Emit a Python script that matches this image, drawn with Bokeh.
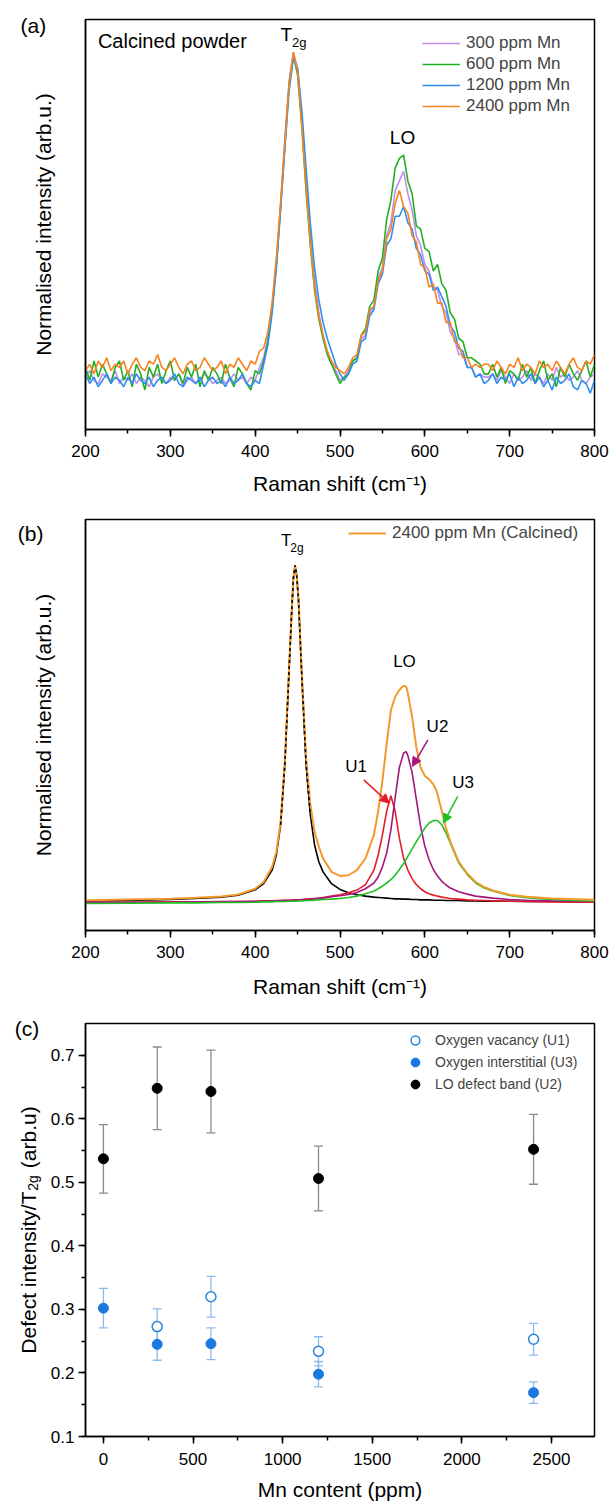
import numpy as np
from bokeh.plotting import figure
from bokeh.models import (ColumnDataSource, Range1d, SingleIntervalTicker, FixedTicker, Label,
                          Legend, LegendItem, Arrow, NormalHead, Whisker, TeeHead)
from bokeh.layouts import column
from bokeh.embed import file_html
from bokeh.resources import INLINE

FONT = "Liberation Sans"

# ---------------- Panel (a) data: calcined powder spectra ----------------
raman_x = list(range(200, 805, 5))
mn300 = [-0.01,0.01,-0.02,-0.03,0.00,-0.01,-0.02,0.01,-0.03,-0.01,
         -0.02,0.00,-0.03,-0.01,-0.02,-0.04,-0.01,0.00,-0.02,-0.03,
         -0.01,-0.02,0.00,-0.04,-0.02,-0.01,-0.03,-0.02,0.00,-0.01,
         -0.03,-0.02,-0.01,-0.03,-0.02,0.00,-0.02,-0.01,-0.03,-0.01,-0.02,
         0.02,0.05,0.11,0.21,0.35,0.53,0.73,0.91,1.0,0.95,
         0.79,0.60,0.43,0.29,0.19,0.12,0.07,0.03,0.01,-0.02,
         -0.01,0.01,
         0.04,0.05,0.11,0.12,0.19,0.21,0.30,0.33,0.43,0.47,
         0.57,0.60,0.63,0.56,0.51,0.43,0.40,0.34,0.32,0.27,
         0.26,0.21,0.19,0.13,0.11,0.06,0.06,0.02,0.02,-0.01,0.00,-0.01,
         -0.01,0.00,-0.02,0.01,-0.01,-0.03,0.00,-0.02,-0.01,0.01,
         -0.02,0.00,-0.01,-0.03,0.00,-0.02,0.02,-0.01,0.00,-0.02,
         -0.01,0.01,-0.02,-0.03,-0.01,0.00]
mn600 = [0.02,-0.02,0.04,-0.01,0.03,0.00,-0.03,0.02,0.04,-0.02,
         0.01,-0.04,0.03,0.00,-0.05,0.02,-0.01,0.03,-0.03,0.01,
         0.04,-0.02,0.00,-0.03,0.02,-0.01,0.03,-0.04,0.01,-0.02,
         0.02,0.00,-0.03,0.03,-0.01,-0.04,0.02,0.00,-0.03,-0.05,0.01,
         0.00,0.04,0.10,0.20,0.34,0.52,0.71,0.90,0.99,0.93,
         0.77,0.57,0.40,0.26,0.17,0.11,0.06,0.03,0.00,-0.03,
         -0.01,0.00,
         0.04,0.05,0.12,0.14,0.21,0.23,0.32,0.36,0.48,0.54,
         0.64,0.67,0.68,0.60,0.56,0.46,0.45,0.39,0.38,0.32,
         0.34,0.28,0.26,0.19,0.17,0.11,0.10,0.05,0.05,0.04,0.03,0.00,
         0.00,0.03,-0.01,0.02,-0.03,0.01,0.00,-0.02,0.03,-0.01,
         0.02,-0.03,0.01,0.04,-0.02,0.00,-0.04,0.02,-0.01,0.03,
         0.00,-0.02,0.01,0.04,-0.01,0.03]
mn1200 = [0.00,-0.03,-0.01,-0.04,-0.02,0.00,-0.03,-0.01,-0.02,-0.04,
          -0.01,-0.03,0.00,-0.02,-0.03,-0.01,-0.04,-0.02,-0.01,-0.03,
          -0.02,0.00,-0.03,-0.04,-0.01,-0.02,-0.03,-0.01,-0.04,-0.02,
          -0.01,-0.03,-0.02,-0.04,-0.01,-0.03,-0.02,0.00,-0.03,-0.04,-0.02,
          -0.03,0.03,0.09,0.19,0.33,0.51,0.70,0.88,0.98,0.95,
          0.82,0.64,0.47,0.33,0.23,0.16,0.11,0.07,0.03,0.00,
          -0.02,0.00,
          0.03,0.04,0.10,0.11,0.18,0.20,0.28,0.31,0.40,0.42,
          0.49,0.49,0.52,0.47,0.45,0.39,0.37,0.32,0.31,0.26,
          0.27,0.24,0.21,0.15,0.13,0.08,0.07,0.02,0.02,-0.01,0.00,-0.03,
          -0.02,0.00,-0.03,-0.01,-0.02,0.00,-0.04,-0.01,-0.03,-0.02,
          0.00,-0.03,-0.01,-0.04,-0.02,-0.05,-0.01,-0.03,-0.02,0.00,
          -0.04,-0.05,-0.02,-0.03,-0.06,-0.02]
mn2400 = [0.01,0.03,0.00,0.04,0.02,0.05,0.01,0.03,0.02,0.04,
          0.00,0.03,0.05,0.02,0.01,0.04,0.03,0.06,0.02,0.01,
          0.03,0.05,0.02,0.00,0.03,0.04,0.01,0.02,0.05,0.03,
          0.01,0.02,0.04,0.00,0.03,0.02,0.05,0.03,0.01,0.04,0.03,
          0.07,0.08,0.13,0.22,0.36,0.53,0.72,0.90,1.0,0.94,
          0.77,0.58,0.41,0.27,0.18,0.12,0.07,0.04,0.02,0.01,
          0.00,0.02,
          0.05,0.06,0.12,0.13,0.20,0.21,0.29,0.32,0.42,0.45,
          0.53,0.57,0.52,0.50,0.43,0.41,0.34,0.33,0.27,0.28,
          0.22,0.22,0.16,0.16,0.10,0.09,0.05,0.05,0.02,0.03,0.02,0.03,
          0.03,0.01,0.04,0.02,0.00,0.03,0.02,0.05,0.01,0.03,
          0.02,0.00,0.04,0.02,0.03,0.01,0.04,0.02,0.00,0.03,
          0.05,0.02,0.01,0.04,0.03,0.06]
series_a_labels = ["300 ppm Mn", "600 ppm Mn", "1200 ppm Mn", "2400 ppm Mn"]

# ---------------- Panel (b) data: fitted 2400 ppm spectrum ----------------
fit_x = [200,250,300,330,360,380,400,410,420,425,430,435,440,443,445,447,449,451,455,460,
         465,470,475,480,490,500,510,520,530,540,545,550,555,560,565,570,575,578,580,585,
         590,595,600,605,610,613,615,620,625,630,640,650,660,670,680,700,720,750,800]
measured = [0.006,0.008,0.010,0.013,0.017,0.023,0.040,0.060,0.105,0.150,0.24,0.42,0.70,0.86,0.96,1.0,0.97,0.90,0.68,0.43,
            0.29,0.21,0.165,0.13,0.09,0.078,0.08,0.095,0.13,0.20,0.27,0.36,0.47,0.57,0.61,0.63,0.643,0.64,0.62,0.55,
            0.46,0.40,0.375,0.365,0.35,0.335,0.32,0.27,0.22,0.18,0.12,0.085,0.06,0.045,0.035,0.022,0.016,0.011,0.007]
t2g_fit = [0.004,0.005,0.008,0.011,0.015,0.021,0.037,0.055,0.095,0.14,0.23,0.41,0.69,0.86,0.96,1.0,0.97,0.90,0.67,0.41,
           0.26,0.17,0.12,0.09,0.055,0.038,0.028,0.022,0.018,0.015,0.014,0.013,0.012,0.011,0.010,0.010,0.009,0.009,0.009,0.008,
           0.008,0.007,0.007,0.007,0.006,0.006,0.006,0.006,0.005,0.005,0.005,0.004,0.004,0.003,0.003,0.003,0.002,0.002,0.001]
u1_fit = [0.0,0.0,0.001,0.001,0.002,0.002,0.003,0.004,0.004,0.005,0.005,0.006,0.006,0.006,0.007,0.007,0.007,0.007,0.008,0.009,
          0.010,0.011,0.012,0.014,0.018,0.022,0.028,0.036,0.052,0.095,0.14,0.20,0.27,0.316,0.27,0.19,0.13,0.11,0.095,0.07,
          0.052,0.04,0.031,0.025,0.021,0.019,0.018,0.015,0.013,0.011,0.009,0.007,0.006,0.005,0.004,0.003,0.002,0.001,0.0]
u2_fit = [0.0,0.0,0.0,0.001,0.001,0.002,0.003,0.003,0.004,0.004,0.005,0.005,0.006,0.006,0.006,0.006,0.007,0.007,0.007,0.008,
          0.009,0.010,0.011,0.012,0.016,0.019,0.023,0.029,0.040,0.057,0.075,0.105,0.145,0.215,0.31,0.40,0.443,0.447,0.435,0.385,
          0.305,0.225,0.166,0.126,0.097,0.085,0.078,0.062,0.051,0.042,0.031,0.024,0.018,0.015,0.012,0.008,0.006,0.004,0.002]
u3_fit = [-0.004,-0.003,-0.002,-0.002,-0.001,-0.001,0.0,0.001,0.001,0.002,0.002,0.002,0.003,0.003,0.003,0.003,0.003,0.004,0.004,0.005,
          0.005,0.006,0.007,0.008,0.009,0.011,0.014,0.018,0.025,0.033,0.040,0.048,0.057,0.067,0.08,0.097,0.115,0.127,0.136,0.158,
          0.18,0.20,0.22,0.235,0.242,0.243,0.242,0.23,0.205,0.176,0.116,0.082,0.057,0.042,0.033,0.02,0.013,0.008,0.003]

# ---------------- Panel (c) data: defect ratios ----------------
mn_ppm = [0, 300, 600, 1200, 2400]
lo_u2 = [0.537, 0.648, 0.643, 0.506, 0.552]
lo_u2_err = [0.054, 0.065, 0.065, 0.051, 0.055]
vac_ppm = [300, 600, 1200, 2400]
vac_u1 = [0.273, 0.320, 0.234, 0.253]
vac_u1_err = [0.028, 0.032, 0.023, 0.025]
int_u3 = [0.302, 0.245, 0.246, 0.198, 0.169]
int_u3_err = [0.031, 0.025, 0.025, 0.020, 0.017]

for s in (mn300, mn600, mn1200, mn2400):
    assert len(s) == len(raman_x), len(s)
for s in (measured, t2g_fit, u1_fit, u2_fit, u3_fit):
    assert len(s) == len(fit_x), len(s)


def style(p, label_standoff):
    p.grid.visible = False
    p.outline_line_color = "black"
    p.outline_line_width = 1.5
    p.background_fill_color = "white"
    p.border_fill_color = "white"
    for ax in p.axis:
        ax.axis_line_width = 1.5
        ax.axis_line_color = "black"
        ax.major_tick_line_width = 1.5
        ax.minor_tick_line_width = 1.5
        ax.major_tick_in = 0
        ax.major_tick_out = 7
        ax.minor_tick_in = 0
        ax.minor_tick_out = 4
        ax.major_label_text_font = FONT
        ax.major_label_text_font_size = "17px"
        ax.major_label_text_color = "black"
        ax.axis_label_text_font = FONT
        ax.axis_label_text_font_size = "21px"
        ax.axis_label_text_font_style = "normal"
        ax.axis_label_text_color = "black"
    p.xaxis.major_label_standoff = label_standoff


def mklabel(x, y, text, size, align="center", baseline="middle", angle=0.0):
    return Label(x=x, y=y, text=text, text_font=FONT, text_font_size=size,
                 text_align=align, text_baseline=baseline, angle=angle, text_color="black")


W = 611

# ================= Panel (a) =================
pa = figure(width=W, height=500, x_range=Range1d(200, 800), y_range=Range1d(-0.173, 1.102),
            output_backend="svg", toolbar_location=None,
            min_border_left=83, min_border_right=17, min_border_top=19, min_border_bottom=71)
style(pa, 8)
pa.xaxis.ticker = SingleIntervalTicker(interval=100, num_minor_ticks=2)
pa.yaxis.ticker = FixedTicker(ticks=[], minor_ticks=[])
pa.xaxis.axis_label = "Raman shift (cm⁻¹)"
pa.xaxis.axis_label_standoff = 12
pa.yaxis.axis_label = "Normalised intensity (arb.u.)"
pa.yaxis.axis_label_standoff = 31

cols_a = ["#c58cf0", "#22b022", "#2f8fee", "#f5841f"]
ra = {}
for key, ys, c in [("300", mn300, cols_a[0]), ("600", mn600, cols_a[1]),
                   ("1200", mn1200, cols_a[2]), ("2400", mn2400, cols_a[3])]:
    ra[key] = pa.line(raman_x, ys, line_color=c, line_width=1.6)

leg_a = Legend(items=[LegendItem(label=series_a_labels[0], renderers=[ra["300"]]),
                      LegendItem(label=series_a_labels[1], renderers=[ra["600"]]),
                      LegendItem(label=series_a_labels[2], renderers=[ra["1200"]]),
                      LegendItem(label=series_a_labels[3], renderers=[ra["2400"]])],
               location=(337, 313), padding=0, margin=0, spacing=1,
               glyph_width=38, glyph_height=20, label_height=20, label_standoff=6,
               border_line_color=None, background_fill_alpha=0,
               label_text_font=FONT, label_text_font_size="17px")
pa.add_layout(leg_a)

pa.add_layout(mklabel(214.6, 1.036, "Calcined powder", "20px", align="left"))
pa.add_layout(mklabel(429.8, 1.055, "T", "19px", align="left"))
pa.add_layout(mklabel(443.4, 1.030, "2g", "13px", align="left"))
pa.add_layout(mklabel(573.7, 0.736, "LO", "19px"))
pa.add_layout(mklabel(138.5, 1.083, "(a)", "21px"), "left")

# ================= Panel (b) =================
pb = figure(width=W, height=500, x_range=Range1d(200, 800), y_range=Range1d(-0.084, 1.136),
            output_backend="svg", toolbar_location=None,
            min_border_left=83, min_border_right=17, min_border_top=19, min_border_bottom=69)
style(pb, 8)
pb.xaxis.ticker = SingleIntervalTicker(interval=100, num_minor_ticks=2)
pb.yaxis.ticker = FixedTicker(ticks=[], minor_ticks=[])
pb.xaxis.axis_label = "Raman shift (cm⁻¹)"
pb.xaxis.axis_label_standoff = 14
pb.yaxis.axis_label = "Normalised intensity (arb.u.)"
pb.yaxis.axis_label_standoff = 31

c_or, c_red, c_pur, c_grn = "#f39a2e", "#e31e2a", "#a3177f", "#22c022"
pb.line(fit_x, t2g_fit, line_color="black", line_width=1.6)
pb.line(fit_x, u1_fit, line_color=c_red, line_width=1.6)
pb.line(fit_x, u2_fit, line_color=c_pur, line_width=1.6)
pb.line(fit_x, u3_fit, line_color=c_grn, line_width=1.6)
r_meas = pb.line(fit_x, measured, line_color=c_or, line_width=2)
pk = slice(fit_x.index(430), fit_x.index(465) + 1)
pb.line(fit_x[pk], t2g_fit[pk], line_color="black", line_width=1.6, line_dash="3 3")

leg_b = Legend(items=[LegendItem(label="2400 ppm Mn (Calcined)", renderers=[r_meas])],
               location=(263, 387), padding=0, margin=0, spacing=1,
               glyph_width=38, glyph_height=20, label_height=20, label_standoff=6,
               border_line_color=None, background_fill_alpha=0,
               label_text_font=FONT, label_text_font_size="17px")
pb.add_layout(leg_b)

for (x0, y0, x1, y1, c) in [(528, 0.363, 558, 0.294, c_red),
                            (603.6, 0.482, 585.3, 0.403, c_pur),
                            (638.8, 0.314, 621.8, 0.235, c_grn)]:
    pb.add_layout(Arrow(end=NormalHead(size=9, fill_color=c, line_color=c),
                        x_start=x0, y_start=y0, x_end=x1, y_end=y1,
                        line_color=c, line_width=1.5))

pb.add_layout(mklabel(436.7, 1.074, "T", "17px"))
pb.add_layout(mklabel(441.5, 1.050, "2g", "12px", align="left"))
pb.add_layout(mklabel(576.0, 0.714, "LO", "17px"))
pb.add_layout(mklabel(518.9, 0.403, "U1", "17px"))
pb.add_layout(mklabel(614.9, 0.523, "U2", "17px"))
pb.add_layout(mklabel(645.2, 0.355, "U3", "17px"))
pb.add_layout(mklabel(135.3, 1.095, "(b)", "21px"), "left")

# ================= Panel (c) =================
pc = figure(width=W, height=503, x_range=Range1d(-100, 2740), y_range=Range1d(0.1, 0.75),
            output_backend="svg", toolbar_location=None,
            min_border_left=83, min_border_right=13, min_border_top=23, min_border_bottom=66)
style(pc, 9)
pc.yaxis.major_label_standoff = 4
pc.xaxis.ticker = SingleIntervalTicker(interval=500, num_minor_ticks=2)
pc.yaxis.ticker = SingleIntervalTicker(interval=0.1, num_minor_ticks=2)
pc.xaxis.axis_label = "Mn content (ppm)"
pc.xaxis.axis_label_standoff = 10

lo_a = np.array(lo_u2); lo_e = np.array(lo_u2_err)
va_a = np.array(vac_u1); va_e = np.array(vac_u1_err)
in_a = np.array(int_u3); in_e = np.array(int_u3_err)
for xs, ys, es, c in [(mn_ppm, lo_a, lo_e, "#8a8a8a"),
                      (vac_ppm, va_a, va_e, "#8bbbec"),
                      (mn_ppm, in_a, in_e, "#8bbbec")]:
    src = ColumnDataSource(dict(x=xs, upper=list(ys + es), lower=list(ys - es)))
    pc.add_layout(Whisker(source=src, base="x", upper="upper", lower="lower",
                          line_color=c, line_width=1.3,
                          upper_head=TeeHead(size=9, line_color=c, line_width=1.3),
                          lower_head=TeeHead(size=9, line_color=c, line_width=1.3)))

r_u1 = pc.scatter(vac_ppm, vac_u1, size=10, marker="circle", fill_color="white",
                  line_color="#2b84dc", line_width=1.5)
r_u3 = pc.scatter(mn_ppm, int_u3, size=10, marker="circle", fill_color="#1a78e0",
                  line_color="#1a78e0")
r_u2 = pc.scatter(mn_ppm, lo_u2, size=10, marker="circle", fill_color="black",
                  line_color="black")

leg_c = Legend(items=[LegendItem(label="Oxygen vacancy (U1)", renderers=[r_u1]),
                      LegendItem(label="Oxygen interstitial (U3)", renderers=[r_u3]),
                      LegendItem(label="LO defect band (U2)", renderers=[r_u2])],
               location=(319, 341), padding=0, margin=0, spacing=-5,
               glyph_width=22, glyph_height=22, label_height=16, label_standoff=9,
               border_line_color=None, background_fill_alpha=0,
               label_text_font=FONT, label_text_font_size="14px")
pc.add_layout(leg_c)

# y-axis title with subscript, built from rotated labels beside the axis
NB = "\u00a0"
pc.add_layout(mklabel(-418.2, 0.425, "Defect intensity/T" + NB * 4 + "(arb.u)", "21px",
                      angle=np.pi / 2), "left")
pc.add_layout(mklabel(-427.0, 0.7425, "(c)", "21px"), "left")
pc.add_layout(mklabel(-390.6, 0.499, "2g", "14px", angle=np.pi / 2), "right")

layout = column(pa, pb, pc)
open("out.html", "w").write(file_html(layout, INLINE))
